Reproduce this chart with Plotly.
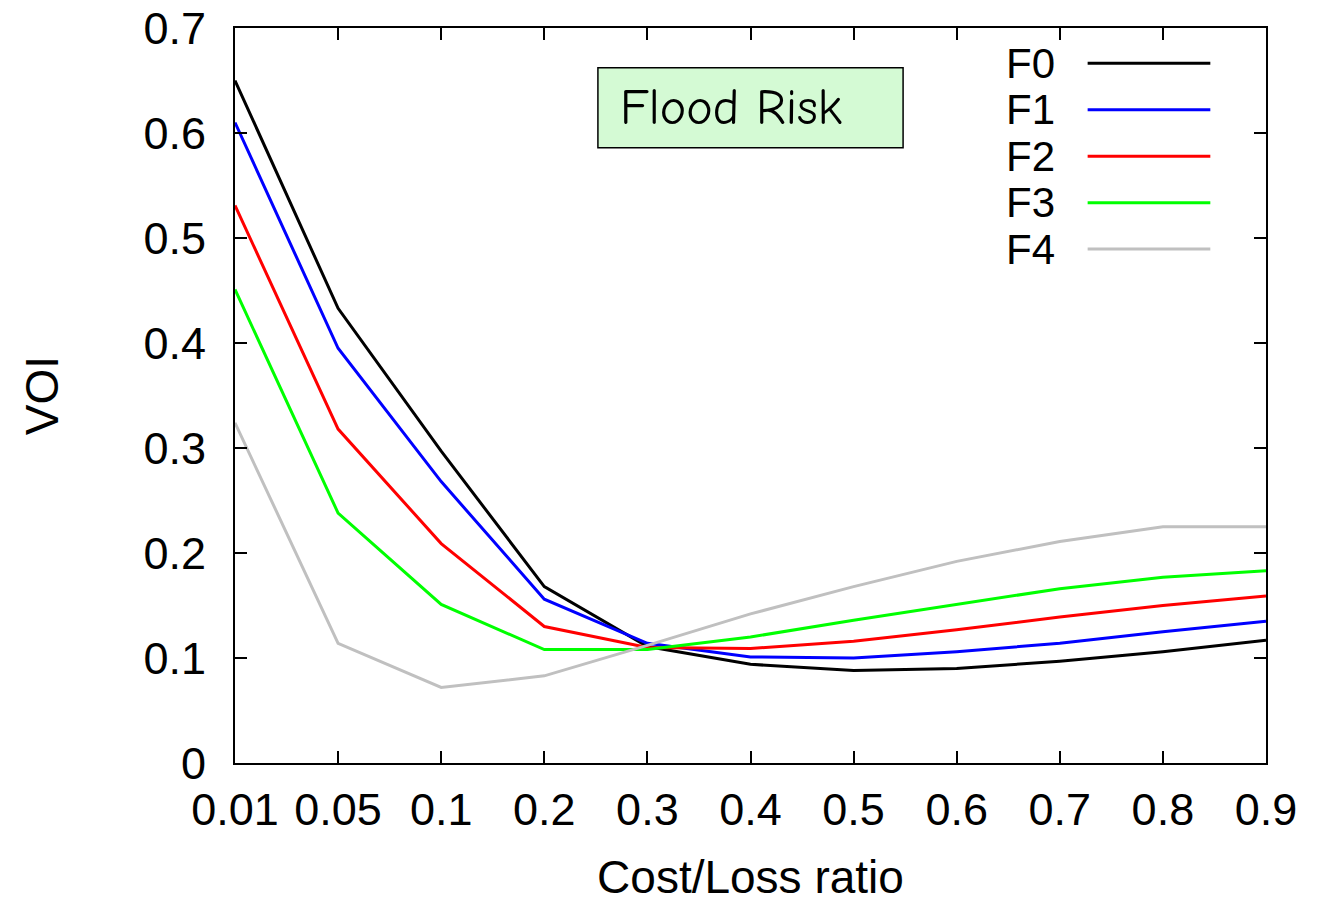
import plotly.graph_objects as go

categories = ["0.01", "0.05", "0.1", "0.2", "0.3", "0.4", "0.5", "0.6", "0.7", "0.8", "0.9"]
F0 = [0.650, 0.433, 0.297, 0.168, 0.111, 0.094, 0.088, 0.090, 0.097, 0.106, 0.117]
F1 = [0.610, 0.395, 0.268, 0.156, 0.114, 0.101, 0.100, 0.106, 0.114, 0.125, 0.135]
F2 = [0.531, 0.318, 0.209, 0.130, 0.110, 0.109, 0.116, 0.127, 0.139, 0.150, 0.159]
F3 = [0.451, 0.238, 0.151, 0.108, 0.108, 0.120, 0.136, 0.151, 0.166, 0.177, 0.183]
F4 = [0.324, 0.114, 0.072, 0.083, 0.112, 0.142, 0.168, 0.192, 0.211, 0.225, 0.225]
series_names = ["F0", "F1", "F2", "F3", "F4"]
series_values = [F0, F1, F2, F3, F4]
colors = ["#000000", "#0000ff", "#ff0000", "#00ff00", "#c0c0c0"]

xpos = list(range(len(categories)))
fig = go.Figure()
for name, vals, c in zip(series_names, series_values, colors):
    fig.add_trace(go.Scatter(x=xpos, y=vals, mode="lines", name=name,
                             line=dict(color=c, width=3), showlegend=False))

font = "Liberation Sans, Arial, sans-serif"
axis_common = dict(showline=True, linecolor="black", linewidth=2, mirror="ticks",
                   ticks="inside", ticklen=12, tickwidth=2, tickcolor="black",
                   showgrid=False, zeroline=False, ticklabeloverflow="allow",
                   tickfont=dict(family=font, size=45, color="black"))

fig.update_xaxes(range=[0, len(categories) - 1], tickmode="array", tickvals=xpos,
                 ticktext=categories, title=dict(text="Cost/Loss ratio", font=dict(family=font, size=46, color="black"), standoff=30),
                 ticklabelstandoff=6, **axis_common)
fig.update_yaxes(range=[0, 0.7], tickmode="array", tickvals=[0, 0.1, 0.2, 0.3, 0.4, 0.5, 0.6, 0.7],
                 ticktext=["0", "0.1", "0.2", "0.3", "0.4", "0.5", "0.6", "0.7"],
                 title=dict(text="VOI", font=dict(family=font, size=46, color="black"), standoff=70),
                 ticklabelstandoff=18, **axis_common)

# manual gnuplot-style legend (text right-aligned, line sample to the right)
leg_y0 = 0.952
leg_dy = 0.0632
for i, (name, c) in enumerate(zip(series_names, colors)):
    y = leg_y0 - i * leg_dy
    fig.add_annotation(x=0.797, y=y, xref="paper", yref="paper", text=name, showarrow=False,
                       xanchor="right", yanchor="middle", font=dict(family=font, size=42, color="black"))
    fig.add_shape(type="line", xref="paper", yref="paper", x0=0.827, x1=0.946, y0=y, y1=y,
                  line=dict(color=c, width=3))

# Flood Risk label box
fig.add_shape(type="rect", xref="paper", yref="paper", x0=0.352, x1=0.648, y0=0.837, y1=0.946,
              fillcolor="#d4fad4", line=dict(color="black", width=1.5), layer="below")
fig.add_annotation(x=0.371, y=0.8915, xref="paper", yref="paper", text="Flood Risk", showarrow=False,
                   xanchor="left", yanchor="middle",
                   font=dict(family="Comic Sans MS, Comic Neue, DejaVu Sans, sans-serif", size=50, color="black"))

fig.update_layout(width=1325, height=903, plot_bgcolor="white", paper_bgcolor="white",
                  margin=dict(l=235, r=59, t=28, b=140, autoexpand=False))

fig.write_html("out.html", config={"displayModeBar": False},
               post_script="document.body.style.margin='0';document.body.style.overflow='hidden';")
